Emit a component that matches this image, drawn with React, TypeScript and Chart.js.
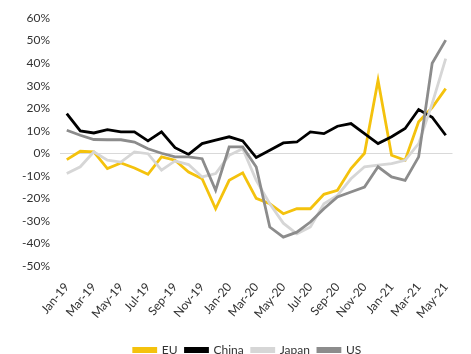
import React, { useEffect, useRef } from "react";
import { Chart, registerables } from "chart.js";

Chart.register(...registerables);

const labels = [
  "Jan-19", "Feb-19", "Mar-19", "Apr-19", "May-19", "Jun-19", "Jul-19", "Aug-19", "Sep-19", "Oct-19", "Nov-19", "Dec-19",
  "Jan-20", "Feb-20", "Mar-20", "Apr-20", "May-20", "Jun-20", "Jul-20", "Aug-20", "Sep-20", "Oct-20", "Nov-20", "Dec-20",
  "Jan-21", "Feb-21", "Mar-21", "Apr-21", "May-21",
];

const euValues = [-2.8, 0.9, 0.6, -6.8, -4.3, -6.5, -9.3, -1.6, -3.1, -8.3, -11.3, -24.6, -12, -8.7, -20, -22.4, -26.8, -24.6, -24.6, -18.2, -16.4, -6.8, 0, 32.4, -0.9, -3.1, 14, 20.3, 28.7];
const chinaValues = [17.6, 9.9, 9, 10.5, 9.5, 9.5, 5.5, 9.5, 2.5, -0.5, 4.3, 5.8, 7.3, 5.5, -1.9, 1.3, 4.6, 5, 9.5, 8.7, 12, 13.2, 8.7, 4.3, 7.3, 11, 19.4, 16, 8];
const japanValues = [-9, -6, 0.6, -3.1, -3.9, 0.6, -0.2, -7.5, -3.4, -5, -10.5, -9, -0.9, 2, -12, -22.4, -31, -35.7, -32.7, -22.4, -18.7, -11.3, -6, -5.3, -4.6, -3.1, 4.3, 22, 42];
const usValues = [10.2, 8, 6.1, 6, 6, 5, 2, 0, -1.6, -1.6, -2.4, -16.4, 2.8, 2.8, -6.1, -32.7, -37.2, -35, -30.5, -24.6, -19.4, -17.2, -15, -6, -10.5, -12, -1.6, 39.9, 50.2];

const yMin = -50;
const yMax = 60;
const yStep = 10;

const FONT = "Lato, 'Liberation Sans', sans-serif";
const TEXT = "#333333";

const shiftLegend = {
  id: "shiftLegend",
  afterLayout(chart: any) {
    const l = chart.legend;
    if (l) {
      l.left += 19.5;
      l.right += 19.5;
    }
  },
};

export default function App() {
  const ref = useRef<HTMLCanvasElement>(null);

  useEffect(() => {
    if (!ref.current) return;
    const chart = new Chart(ref.current, {
      type: "line",
      data: {
        labels,
        datasets: [
          { label: "US", data: usValues, borderColor: "#8c8c8c", backgroundColor: "#8c8c8c" },
          { label: "Japan", data: japanValues, borderColor: "#d6d6d6", backgroundColor: "#d6d6d6" },
          { label: "China", data: chinaValues, borderColor: "#000000", backgroundColor: "#000000" },
          { label: "EU", data: euValues, borderColor: "#f4c20d", backgroundColor: "#f4c20d" },
        ],
      },
      plugins: [shiftLegend],
      options: {
        responsive: false,
        animation: false,
        layout: { padding: { left: 0, right: 15, top: 18, bottom: 0 } },
        elements: {
          point: { radius: 0, hoverRadius: 0 },
          line: { tension: 0, borderWidth: 2.8 },
        },
        plugins: {
          tooltip: { enabled: false },
          legend: {
            position: "bottom",
            reverse: true,
            labels: {
              boxWidth: 22,
              boxHeight: 3,
              padding: 8,
              color: TEXT,
              font: { family: FONT, size: 12 },
            },
          },
        },
        scales: {
          x: {
            offset: true,
            grid: { display: false, drawTicks: false },
            border: { display: false },
            ticks: {
              autoSkip: false,
              maxRotation: 50,
              minRotation: 50,
              padding: 14,
              color: TEXT,
              font: { family: FONT, size: 12 },
              callback: (_v: any, i: number) => (i % 2 === 0 ? labels[i] : ""),
            },
            afterFit: (s: any) => {
              s.height = 70;
            },
          },
          y: {
            min: yMin,
            max: yMax,
            ticks: {
              stepSize: yStep,
              padding: 10,
              color: TEXT,
              font: { family: FONT, size: 12 },
              callback: (v: any) => `${v}%`,
            },
            grid: {
              drawTicks: false,
              lineWidth: 1,
              color: (ctx: any) => (ctx.tick && ctx.tick.value === 0 ? "#d9d9d9" : "rgba(0,0,0,0)"),
            },
            border: { display: false },
            afterFit: (s: any) => {
              s.width = 60;
            },
          },
        },
      },
    });
    return () => chart.destroy();
  }, []);

  return (
    <div style={{ position: "fixed", left: 0, top: 0, width: 471, height: 354, overflow: "hidden", background: "#fff" }}>
      <canvas ref={ref} width={471} height={366} style={{ display: "block" }} />
    </div>
  );
}
